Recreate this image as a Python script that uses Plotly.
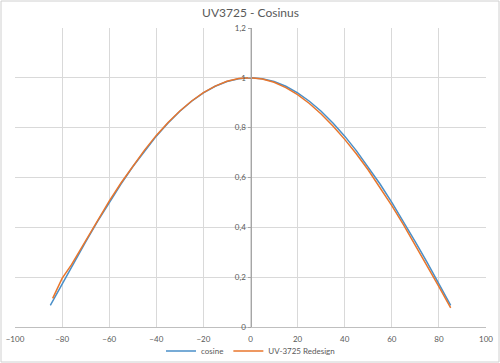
import plotly.graph_objects as go

angles = [-85, -80, -75, -70, -65, -60, -55, -50, -45, -40, -35, -30, -25, -20, -15, -10, -5,
          0, 5, 10, 15, 20, 25, 30, 35, 40, 45, 50, 55, 60, 65, 70, 75, 80, 85]
cosine = [0.087, 0.174, 0.259, 0.342, 0.423, 0.500, 0.574, 0.643, 0.707, 0.766, 0.819, 0.866,
          0.906, 0.940, 0.966, 0.985, 0.996, 1.000, 0.996, 0.985, 0.966, 0.940, 0.906, 0.866,
          0.819, 0.766, 0.707, 0.643, 0.574, 0.500, 0.423, 0.342, 0.259, 0.174, 0.087]

redesign_angles = [-84, -80, -76, -70, -65, -60, -55, -50, -45, -40, -35, -30, -25, -20, -15, -10, -5,
                   0, 5, 10, 15, 20, 25, 30, 35, 40, 45, 50, 55, 60, 65, 70, 75, 80, 85]
redesign = [0.115, 0.195, 0.250, 0.345, 0.427, 0.505, 0.578, 0.646, 0.710, 0.769, 0.821, 0.867,
            0.907, 0.941, 0.967, 0.986, 0.997, 1.000, 0.995, 0.982, 0.961, 0.933, 0.897, 0.855,
            0.807, 0.753, 0.694, 0.630, 0.561, 0.487, 0.410, 0.329, 0.246, 0.162, 0.077]

x_ticks = [-100, -80, -60, -40, -20, 0, 20, 40, 60, 80, 100]
y_ticks = [0, 0.2, 0.4, 0.6, 0.8, 1.0, 1.2]

fig = go.Figure()
fig.add_trace(go.Scatter(x=angles, y=cosine, mode="lines", name="cosine",
                         line=dict(color="#4a8fc8", width=1.5)))
fig.add_trace(go.Scatter(x=redesign_angles, y=redesign, mode="lines", name="UV-3725 Redesign",
                         line=dict(color="#e8762d", width=1.5)))

W, H = 500, 363
ml, mr, mt, mb = 15, 14, 28, 36
fig.update_layout(
    width=W, height=H,
    margin=dict(l=ml, r=mr, t=mt, b=mb, autoexpand=False),
    paper_bgcolor="white", plot_bgcolor="white",
    separators=", ",
    font=dict(family="Lato, Open Sans, sans-serif", color="#595959", size=8),
    title=dict(text="UV3725 - Cosinus", x=0.5, xanchor="center", xref="paper",
               y=1 - 13 / H, yanchor="middle",
               font=dict(size=12, color="#595959")),
    showlegend=True,
    legend=dict(orientation="h", x=0.5, xanchor="center", xref="paper",
                yref="container", y=1 - 351 / H, bgcolor="rgba(0,0,0,0)",
                yanchor="middle", font=dict(size=8, color="#595959"), itemwidth=30,
                tracegroupgap=0),
    xaxis=dict(range=[-100, 100], tickvals=x_ticks, showgrid=True, gridcolor="#d9d9d9",
               gridwidth=1, zeroline=False, showline=True, linecolor="#bfbfbf",
               ticks="outside", ticklen=4, tickcolor="rgba(0,0,0,0)", automargin=False,
               tickfont=dict(size=8, color="#595959")),
    yaxis=dict(range=[0, 1.2], tickvals=y_ticks, showgrid=True, gridcolor="#d9d9d9",
               gridwidth=1, zeroline=False, showline=True, linecolor="#a6a6a6",
               anchor="free", position=0.5, ticks="outside", ticklen=3, tickcolor="#a6a6a6",
               automargin=False, tickfont=dict(size=8, color="#595959")),
)
# outer chart border
pw = W - ml - mr
ph = H - mt - mb
fig.add_shape(type="rect", xref="paper", yref="paper",
              x0=-(ml - 1) / pw, x1=1 + (mr - 1) / pw, y0=-(mb - 1) / ph, y1=1 + (mt - 1) / ph,
              line=dict(color="#d0d0d0", width=1), layer="below")
fig.write_html("out.html", config={"displayModeBar": False},
               post_script="document.body.style.margin='0';document.body.style.overflow='hidden';")
